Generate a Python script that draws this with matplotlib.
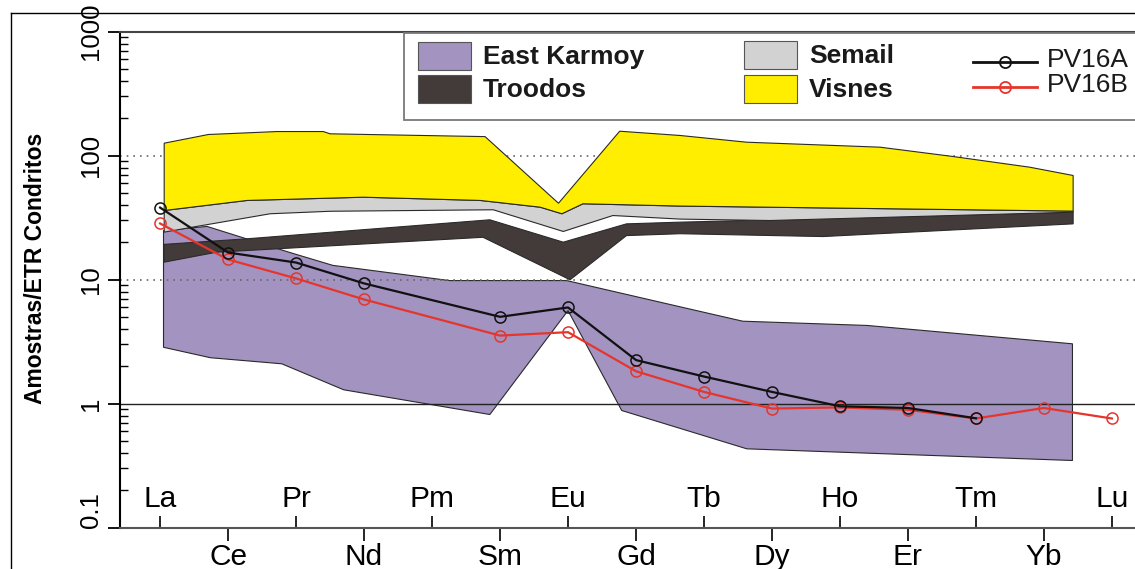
import numpy as np
import matplotlib
matplotlib.use("Agg")
import matplotlib.pyplot as plt
from matplotlib import font_manager
from matplotlib.patches import Rectangle
from matplotlib.lines import Line2D

# elementos terras raras (eixo x)
ree = ['La', 'Ce', 'Pr', 'Nd', 'Pm', 'Sm', 'Eu', 'Gd', 'Tb', 'Dy', 'Ho', 'Er', 'Tm', 'Yb', 'Lu']

# amostras normalizadas ao condrito (nan = sem dado)
pv16a = [38, 16.5, 13.7, 9.3, np.nan, 5.0, 5.95, 2.24, 1.65, 1.24, 0.95, 0.92, 0.76, np.nan, np.nan]
pv16b = [28.3, 14.5, 10.2, 6.9, np.nan, 3.53, 3.76, 1.82, 1.24, 0.91, 0.93, 0.89, 0.757, 0.92, 0.757]

# campos de referencia: posicao (indice do elemento) e valor, limite superior e inferior
karmoy_top_x = [0.05, 0.69, 1.91, 2.54, 4.26, 5.98, 7.69, 8.57, 10.40, 13.42]
karmoy_top = [24.8, 26.8, 16.5, 13.0, 9.8, 9.8, 5.95, 4.61, 4.26, 3.03]
karmoy_bot_x = [0.05, 0.74, 1.79, 2.70, 4.85, 6.00, 6.79, 8.63, 13.42]
karmoy_bot = [2.84, 2.34, 2.09, 1.29, 0.815, 5.62, 0.878, 0.431, 0.347]

troodos_top_x = [0.06, 1.28, 4.85, 5.93, 6.86, 7.65, 13.43]
troodos_top = [19.2, 21.3, 30.3, 20.0, 28.1, 29.0, 34.9]
troodos_bot_x = [0.06, 0.83, 4.75, 6.03, 6.86, 7.65, 9.75, 13.43]
troodos_bot = [13.8, 16.6, 21.9, 9.95, 22.6, 23.4, 22.2, 28.1]

semail_top_x = [0.06, 1.28, 2.99, 4.71, 5.59, 5.91, 6.22, 7.65, 13.43]
semail_top = [36.0, 43.4, 46.1, 43.4, 38.3, 33.9, 40.8, 39.1, 35.6]
semail_bot_x = [0.06, 0.54, 1.62, 2.50, 4.90, 5.93, 6.66, 7.65, 8.97, 13.43]
semail_bot = [24.1, 26.8, 33.9, 35.5, 36.5, 24.4, 32.8, 30.7, 29.9, 34.9]

visnes_top_x = [0.06, 0.71, 1.72, 2.40, 2.50, 4.78, 5.86, 6.76, 7.65, 8.63, 10.59, 11.66, 12.79, 13.43]
visnes_top = [125.7, 147.7, 156, 156, 149.6, 142, 41.2, 157, 145, 128, 116.7, 98.2, 80.5, 69]
visnes_bot_x = semail_top_x
visnes_bot = semail_top

c_karmoy = '#A393C0'
c_troodos = '#433B39'
c_semail = '#D2D2D2'
c_visnes = '#FFEE00'
c_red = '#E5352C'

names = {f.name for f in font_manager.fontManager.ttflist}
narrow = 'Liberation Sans Narrow' in names
plt.rcParams['font.family'] = ['Liberation Sans', 'DejaVu Sans']

W, H = 1135, 569
fig = plt.figure(figsize=(W / 100, H / 100), dpi=100)
ax = fig.add_axes([120 / W, (H - 527.5) / H, (W - 120) / W, 496 / H])

x = np.arange(len(ree))


def campo(tx, ty, bx, by, cor, z):
    px = list(tx) + list(bx)[::-1]
    py = list(ty) + list(by)[::-1]
    ax.fill(px, py, facecolor=cor, edgecolor='#2a2a2a', linewidth=0.8, zorder=z)


campo(karmoy_top_x, karmoy_top, karmoy_bot_x, karmoy_bot, c_karmoy, 1)
campo(troodos_top_x, troodos_top, troodos_bot_x, troodos_bot, c_troodos, 3)
campo(semail_top_x, semail_top, semail_bot_x, semail_bot, c_semail, 3)
campo(visnes_top_x, visnes_top, visnes_bot_x, visnes_bot, c_visnes, 3)

# linhas de referencia
ax.axhline(100, color='#666666', linestyle=(0, (1, 3)), linewidth=1.2, zorder=2)
ax.axhline(10, color='#666666', linestyle=(0, (1, 3)), linewidth=1.2, zorder=2)
ax.axhline(1, color='#222222', linewidth=1.0, zorder=2)

a = np.array(pv16a)
b = np.array(pv16b)
ma = ~np.isnan(a)
mb = ~np.isnan(b)
ax.plot(x[mb], b[mb], color=c_red, linewidth=1.6, marker='o', markersize=8,
        markerfacecolor='none', markeredgecolor=c_red, markeredgewidth=1.1, zorder=5)
ax.plot(x[ma], a[ma], color='#111111', linewidth=1.6, marker='o', markersize=8,
        markerfacecolor='none', markeredgecolor='#111111', markeredgewidth=1.1, zorder=6)

ax.set_yscale('log')
ax.set_ylim(0.1, 1000)
ax.set_xlim(-0.59, 14.34)

ax.spines['right'].set_visible(False)
ax.spines['top'].set_color('#444444')
ax.spines['top'].set_linewidth(1.5)
ax.spines['left'].set_linewidth(1.5)
ax.spines['bottom'].set_linewidth(1.5)
ax.spines['bottom'].set_color('#555555')

ax.set_yticks([0.1, 1, 10, 100, 1000])
ax.set_yticklabels(['0.1', '1', '10', '100', '1000'], rotation=90, va='center', fontsize=18.5)
ax.get_yticklabels()[0].set_va('bottom')
ax.tick_params(axis='y', which='major', direction='out', length=9, width=1.3, pad=3)
ax.tick_params(axis='y', which='minor', direction='in', length=6, width=1.0)

# elementos alternados: metade abaixo do eixo, metade dentro do grafico
ax.set_xticks(x[1::2])
ax.set_xticklabels(ree[1::2], fontsize=21.5)
ax.set_xticks(x[0::2], minor=True)
ax.tick_params(axis='x', which='major', direction='out', length=9, width=1.2, pad=2)
ax.tick_params(axis='x', which='minor', direction='in', length=9, width=1.2)
for xi, nome in zip(x[0::2], ree[0::2]):
    ax.text(xi, 0.03, nome, transform=ax.get_xaxis_transform(), ha='center', va='bottom', fontsize=21.5)

if narrow:
    ax.set_ylabel('Amostras/ETR Condritos', fontsize=19, fontweight='bold', family='Liberation Sans Narrow')
else:
    ax.set_ylabel('Amostras/ETR Condritos', fontsize=16.5, fontweight='bold')
ax.yaxis.label.set_va('center')
ax.yaxis.set_label_coords(-0.0837, 0.522)


# legenda desenhada a mao (coordenadas em pixels da figura)
def fx(px):
    return px / W


def fy(py):
    return 1 - py / H


fig.add_artist(Rectangle((fx(404), fy(120)), fx(800), fy(33) - fy(120), transform=fig.transFigure,
                         facecolor='white', edgecolor='#7a7a7a', linewidth=1.3, zorder=10))
caixas = [(418, 42, c_karmoy, 'East Karmoy'), (418, 75, c_troodos, 'Troodos'),
          (744, 41, c_semail, 'Semail'), (744, 75, c_visnes, 'Visnes')]
for px, py, cor, nome in caixas:
    fig.add_artist(Rectangle((fx(px), fy(py + 28)), fx(53), fy(py) - fy(py + 28), transform=fig.transFigure,
                             facecolor=cor, edgecolor='#555555', linewidth=0.8, zorder=11))
    fig.text(fx(px + 65), fy(py + 15), nome, fontsize=19, fontweight='bold', va='center', ha='left',
             color='#1a1a1a', zorder=12)
for py, cor, nome in [(62, '#111111', 'PV16A'), (87, c_red, 'PV16B')]:
    fig.add_artist(Line2D([fx(973), fx(1005), fx(1037)], [fy(py)] * 3, transform=fig.transFigure,
                          color=cor, linewidth=2, marker='o', markevery=[1], markersize=8,
                          markerfacecolor='none', markeredgewidth=1.3, zorder=11))
    fig.text(fx(1047), fy(py - 2), nome, fontsize=19, va='center', ha='left', color='#1a1a1a', zorder=12)

# moldura externa da figura original
fig.add_artist(Line2D([fx(11), fx(11)], [0, fy(13)], transform=fig.transFigure, color='black', linewidth=1))
fig.add_artist(Line2D([fx(11), 1], [fy(13), fy(13)], transform=fig.transFigure, color='black', linewidth=1))

fig.savefig('out.png', dpi=100)
